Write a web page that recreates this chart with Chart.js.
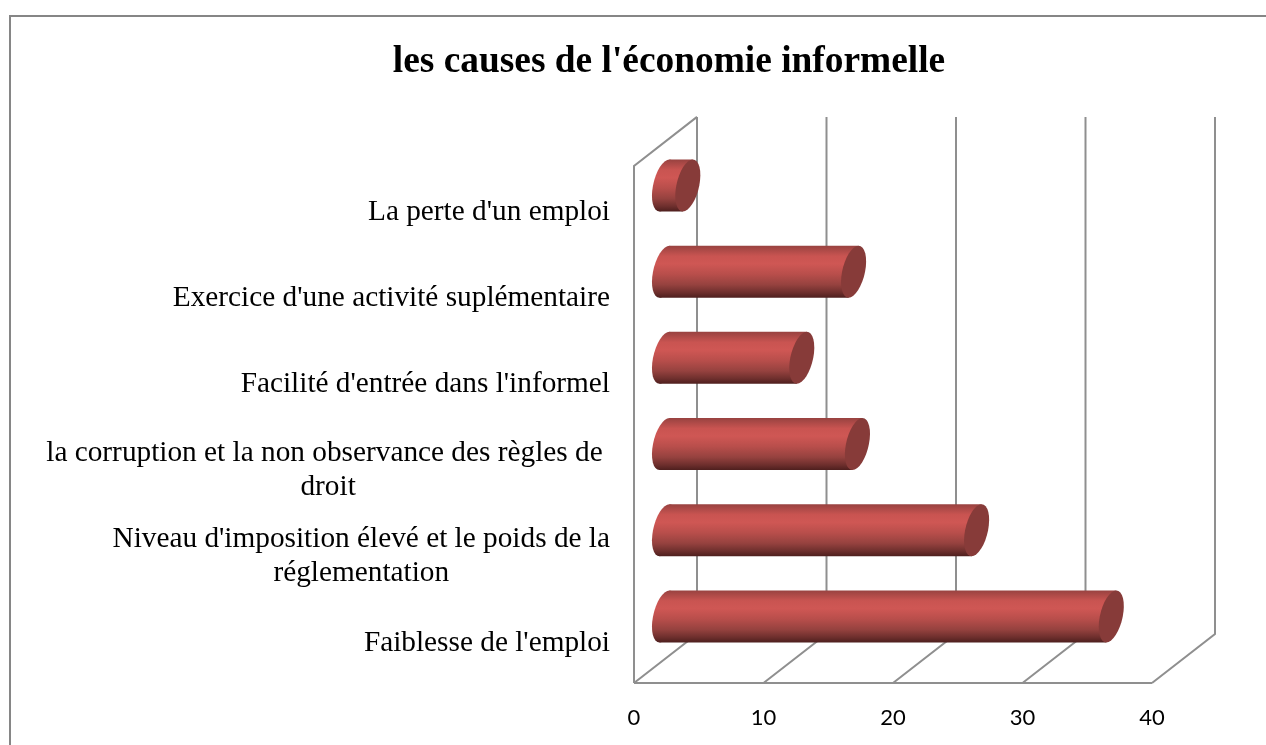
<!DOCTYPE html>
<html lang="fr">
<head>
<meta charset="utf-8">
<title>les causes de l'économie informelle</title>
<script src="https://cdn.jsdelivr.net/npm/chart.js@4"></script>
<style>
html,body{margin:0;padding:0;background:#fff;}
#wrap{position:relative;width:1266px;height:745px;}
canvas{display:block;}
</style>
</head>
<body>
<div id="wrap"><canvas id="c" width="1266" height="745"></canvas></div>
<script>
const chartTitle = "les causes de l'économie informelle";
const categories = [
  "Faiblesse de l'emploi",
  ["Niveau d'imposition élevé et le poids de la", "réglementation"],
  ["la corruption et la non observance des règles de ", "droit"],
  "Facilité d'entrée dans l'informel",
  "Exercice d'une activité suplémentaire",
  "La perte d'un emploi"
];
const values = [34.5, 24.1, 14.9, 10.6, 14.6, 1.8];
const xTicks = [0, 10, 20, 30, 40];

const GRID = '#8f8f8f';
const DEPTH_X = 63, DEPTH_Y = -49;      // 3D box depth
const BAR_DX = 30.5, BAR_DY = -23.5;    // cylinders sit mid-depth
const CAP_RX = 11.5, CAP_SKEW = 5;      // end ellipse shape
const LABEL_RIGHT = 610, LINE_H = 34, LABEL_DY = 3;
const LABEL_FONT = '29.3px "Liberation Serif"';

function ellipsePath(ctx, cx, cy, ry) {
  ctx.save();
  ctx.transform(1, 0, -CAP_SKEW / ry, 1, cx + CAP_SKEW * cy / ry, 0);
  ctx.beginPath();
  ctx.ellipse(0, cy, CAP_RX, ry, 0, 0, Math.PI * 2);
  ctx.restore();
}

const box3d = {
  id: 'box3d',
  beforeDraw(chart) {
    const ctx = chart.ctx, x = chart.scales.x, a = chart.chartArea;
    ctx.save();
    ctx.fillStyle = '#fff';
    ctx.fillRect(0, 0, chart.width, chart.height);
    // outer chart frame
    ctx.strokeStyle = '#868686';
    ctx.lineWidth = 2;
    ctx.beginPath();
    ctx.moveTo(10, chart.height);
    ctx.lineTo(10, 16);
    ctx.lineTo(chart.width, 16);
    ctx.stroke();
    // walls
    ctx.strokeStyle = GRID;
    ctx.lineWidth = 2;
    ctx.beginPath();
    xTicks.forEach(t => {
      const px = x.getPixelForValue(t);
      ctx.moveTo(px + DEPTH_X, a.top + DEPTH_Y);
      ctx.lineTo(px + DEPTH_X, a.bottom + DEPTH_Y);
      ctx.lineTo(px, a.bottom);
    });
    ctx.moveTo(a.left, a.bottom);
    ctx.lineTo(a.right, a.bottom);
    ctx.moveTo(a.left, a.bottom);
    ctx.lineTo(a.left, a.top);
    ctx.lineTo(a.left + DEPTH_X, a.top + DEPTH_Y);
    ctx.stroke();
    ctx.restore();
  },
  beforeDatasetDraw(chart, args) {
    const ctx = chart.ctx;
    const bars = args.meta.data.slice().reverse();
    bars.forEach(bar => {
      const top = bar.y - bar.height / 2 + BAR_DY;
      const bot = bar.y + bar.height / 2 + BAR_DY;
      const ry = bar.height / 2, cy = bar.y + BAR_DY;
      const x0 = bar.base + BAR_DX, x1 = bar.x + BAR_DX;
      const g = ctx.createLinearGradient(0, top, 0, bot);
      g.addColorStop(0, '#984240');
      g.addColorStop(0.2, '#c95451');
      g.addColorStop(0.35, '#cf5754');
      g.addColorStop(0.55, '#b84e4b');
      g.addColorStop(0.75, '#96423f');
      g.addColorStop(0.9, '#6e2f2d');
      g.addColorStop(1, '#4e1f1e');
      ctx.save();
      ctx.fillStyle = g;
      // body: left end ellipse + skewed tube
      ellipsePath(ctx, x0, cy, ry);
      ctx.fill();
      ctx.beginPath();
      ctx.moveTo(x0 + CAP_SKEW, top);
      ctx.lineTo(x1 + CAP_SKEW, top);
      ctx.lineTo(x1 - CAP_SKEW, bot);
      ctx.lineTo(x0 - CAP_SKEW, bot);
      ctx.closePath();
      ctx.fill();
      // end face
      ctx.fillStyle = bar.options.backgroundColor;
      ellipsePath(ctx, x1, cy, ry);
      ctx.fill();
      ctx.restore();
    });
    return false;
  },
  afterDraw(chart) {
    const ctx = chart.ctx, y = chart.scales.y;
    ctx.save();
    ctx.fillStyle = '#000';
    ctx.font = LABEL_FONT;
    ctx.textBaseline = 'middle';
    ctx.textAlign = 'center';
    categories.forEach((label, i) => {
      const lines = Array.isArray(label) ? label : [label];
      const w = Math.max(...lines.map(l => ctx.measureText(l).width));
      const cx = LABEL_RIGHT - w / 2;
      const py = y.getPixelForValue(i) + LABEL_DY;
      lines.forEach((l, k) => {
        ctx.fillText(l, cx, py + (k - (lines.length - 1) / 2) * LINE_H);
      });
    });
    ctx.restore();
  }
};

new Chart(document.getElementById('c'), {
  type: 'bar',
  data: {
    labels: categories,
    datasets: [{
      label: chartTitle,
      data: values,
      backgroundColor: '#873b39',
      barPercentage: 0.603,
      categoryPercentage: 1
    }]
  },
  plugins: [box3d],
  options: {
    indexAxis: 'y',
    responsive: false,
    animation: false,
    layout: { padding: { left: 186, right: 114, top: 0, bottom: 0 } },
    plugins: {
      legend: { display: false },
      tooltip: { enabled: false },
      title: {
        display: true,
        text: chartTitle,
        color: '#000',
        font: { family: '"Liberation Serif"', size: 37.4, weight: 'bold' },
        padding: { top: 40, bottom: 81 }
      }
    },
    scales: {
      x: {
        min: 0, max: 40,
        grid: { display: false, drawTicks: false },
        border: { display: false },
        afterBuildTicks(s) { s.ticks = xTicks.map(v => ({ value: v })); },
        afterFit(s) { s.height = 62; },
        ticks: {
          color: '#000',
          padding: 22,
          maxRotation: 0,
          font: { family: 'Lato', size: 22 }
        }
      },
      y: {
        reverse: true,
        grid: { display: false, drawTicks: false },
        border: { display: false },
        ticks: { display: false },
        afterFit(s) { s.width = 448; }
      }
    }
  }
});
</script>
</body>
</html>
